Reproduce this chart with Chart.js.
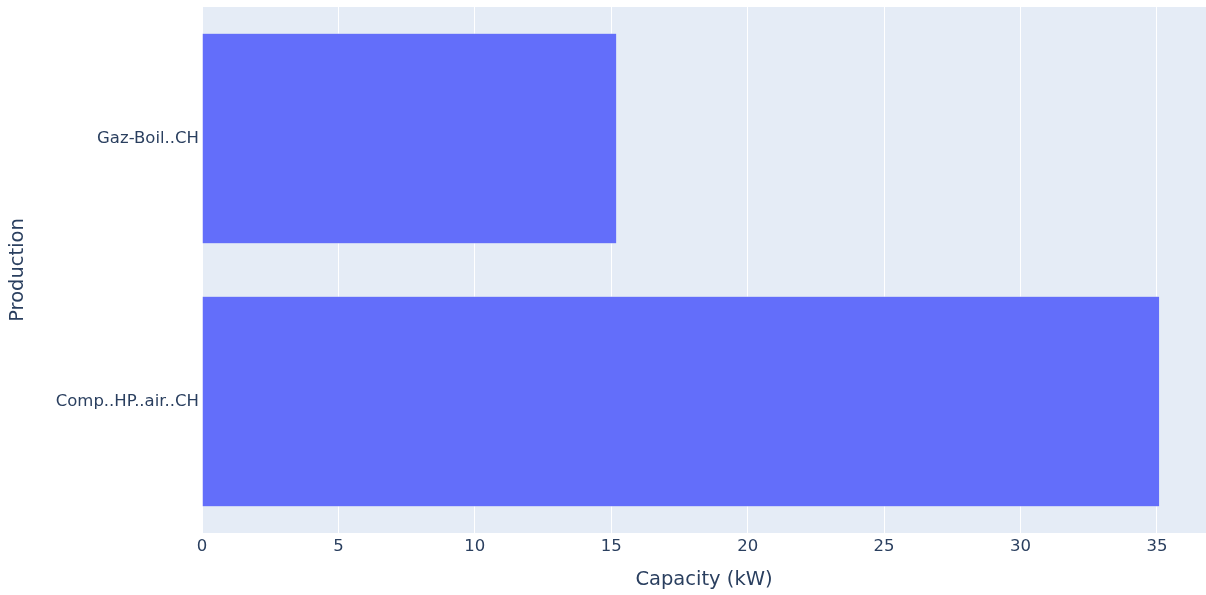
<!DOCTYPE html>
<html>
<head>
<meta charset="utf-8">
<script src="https://cdn.jsdelivr.net/npm/chart.js@4"></script>
<style>
  html, body { margin: 0; padding: 0; background: #fff; }
  #wrap { width: 1206px; height: 595px; }
</style>
</head>
<body>
<div id="wrap"><canvas id="capChart"></canvas></div>
<script>
const categories = ['Gaz-Boil..CH', 'Comp..HP..air..CH'];
const capacity = [15.2, 35.1];
const xTicks = [0, 5, 10, 15, 20, 25, 30, 35];

// fill plot area like plotly's background
const plotBg = {
  id: 'plotBg',
  beforeDraw(chart) {
    const { ctx, chartArea: a } = chart;
    ctx.save();
    ctx.fillStyle = '#e5ecf6';
    ctx.fillRect(a.left, a.top, a.right - a.left, a.bottom - a.top);
    ctx.restore();
  }
};

const font = 'DejaVu Sans, Verdana, sans-serif';
const ctx = document.getElementById('capChart').getContext('2d');
new Chart(ctx, {
  type: 'bar',
  data: {
    labels: categories,
    datasets: [{
      label: 'Capacity',
      data: capacity,
      backgroundColor: '#636efa',
      borderColor: '#e5ecf6',
      borderWidth: 0.5,
      barPercentage: 0.8,
      categoryPercentage: 1.0,
    }]
  },
  options: {
    indexAxis: 'y',
    responsive: true,
    maintainAspectRatio: false,
    animation: false,
    layout: { padding: { top: 7, left: 0, right: 0, bottom: 0 } },
    plugins: {
      legend: { display: false },
      tooltip: { enabled: false },
    },
    scales: {
      x: {
        type: 'linear',
        min: 0,
        max: 36.8,
        afterBuildTicks(axis) {
          axis.ticks = xTicks.map(v => ({ value: v }));
        },
        afterFit(axis) { axis.height = 62; axis.paddingRight = 0; },
        border: { display: false },
        grid: { color: '#ffffff', lineWidth: 1, drawTicks: false },
        ticks: {
          padding: 4,
          color: '#2a3f5f',
          font: { family: font, size: 16.5 },
          maxRotation: 0,
        },
        title: {
          display: true,
          text: 'Capacity (kW)',
          color: '#2a3f5f',
          font: { family: font, size: 19.5 },
          padding: { top: 0, bottom: 3 },
        },
      },
      y: {
        afterFit(axis) {
          axis.width = 202;
          axis.paddingTop = 0;
          axis.paddingBottom = 0;
        },
        border: { display: false },
        grid: { display: false, drawTicks: false },
        ticks: {
          padding: 3,
          color: '#2a3f5f',
          font: { family: font, size: 16.5 },
        },
        title: {
          display: true,
          text: 'Production',
          color: '#2a3f5f',
          font: { family: font, size: 19.5 },
          padding: { top: 6, bottom: 0 },
        },
      },
    },
  },
  plugins: [plotBg],
});
</script>
</body>
</html>
